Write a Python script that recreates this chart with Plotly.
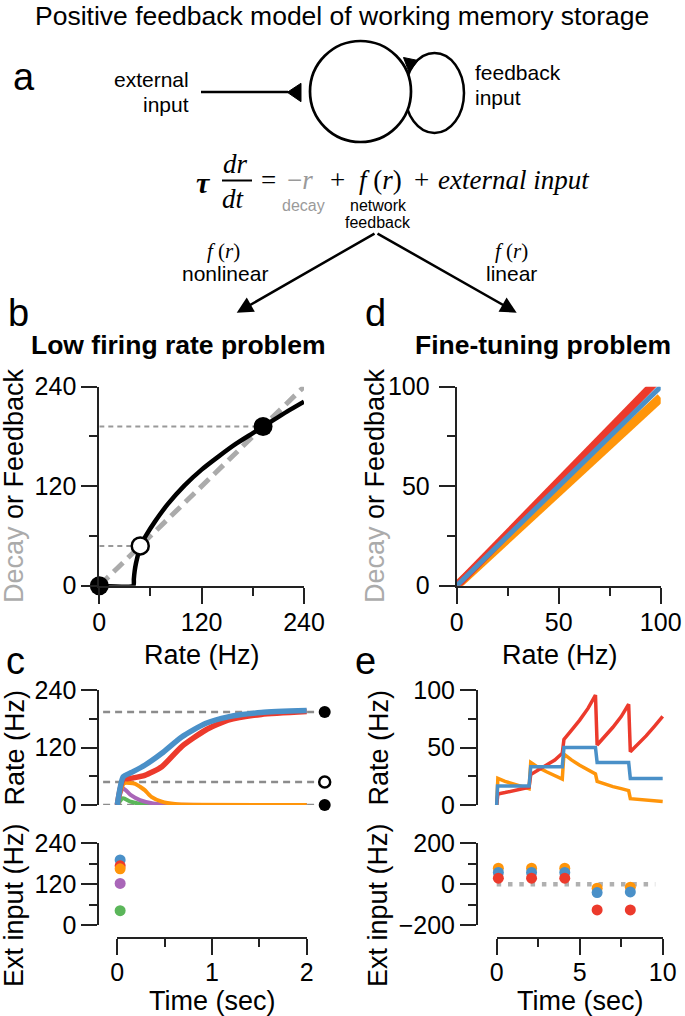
import plotly.graph_objects as go

W, H = 685, 1016
SANS = "Liberation Sans, Arial, Helvetica, sans-serif"
SERIF = "Liberation Serif, Times New Roman, serif"

RED = "#EC3A2C"
BLUE = "#4A90C8"
ORANGE = "#FF950A"
PURPLE = "#A966B8"
GREEN = "#5BB65A"
DECAY_GRAY = "#ababab"
AX = "#222222"

# ---------------- data ----------------
# panel b : nonlinear feedback
decay_rate = [0, 240]
decay_value = [0, 240]
fb_rate = [0, 40, 40.5, 41.5, 43, 45.5, 48, 55, 65, 80, 100, 120, 140, 160, 180, 200, 220, 240]
fb_value = [0, 0, 8, 18, 27, 38, 48, 61, 77, 98, 121, 140, 156, 171, 184, 197, 210, 222]
b_fixed_rate = [0, 48, 192]
b_fixed_value = [0, 48, 192]
b_ticks = [0, 120, 240]
b_minor = [60, 180]

# panel d : linear feedback
d_rate = [0, 100]
d_blue = [0, 100]
d_orange = [0, 94.5]
d_red = [0, 105]
d_ticks = [0, 50, 100]
d_minor = [25, 75]

# panel c : rate vs time (nonlinear)
c_levels = [0, 48, 194]
c_level_span = [-0.15, 2.1]
c_fixed_time = 2.19
c_t_blue = [0, 0.063, 0.15, 0.29, 0.47, 0.68, 0.93, 1.17, 1.52, 2.0]
c_r_blue = [0, 59, 68, 83, 108, 142, 170, 184, 193, 197]
c_t_red = [0, 0.063, 0.15, 0.29, 0.47, 0.68, 0.93, 1.17, 1.52, 2.0]
c_r_red = [0, 53, 56, 62, 80, 122, 156, 177, 189, 195]
c_t_orange = [0, 0.07, 0.13, 0.19, 0.24, 0.29, 0.36, 0.47, 0.61, 0.8, 2.0]
c_r_orange = [0, 45, 46, 44, 38, 31, 17, 7, 2, 0.5, 0]
c_t_purple = [0, 0.06, 0.14, 0.24, 0.38, 0.5, 2.0]
c_r_purple = [0, 35, 21, 10, 3, 1, 0]
c_t_green = [0, 0.06, 0.14, 0.29, 0.45, 2.0]
c_r_green = [0, 14, 7, 1, 0, 0]
c_ext_time = 0.03
c_ext_vals = [191, 174, 165, 122, 42]
c_ext_cols = [BLUE, RED, ORANGE, PURPLE, GREEN]
c_rate_ticks = [0, 120, 240]
c_rate_minor = [60, 180]
c_time_ticks = [0, 1, 2]
c_time_minor = [0.5, 1.5]

# panel e : rate vs time (linear)
e_t_blue = [0, 0.05, 1.95, 2.05, 3.95, 4.05, 5.95, 6.05, 7.95, 8.05, 10]
e_r_blue = [0, 16.5, 16.5, 33.3, 33.3, 50, 50, 37, 37, 23, 23]
e_t_curve = [0, 0.07, 0.5, 1.0, 1.5, 1.95, 2.05, 2.5, 3.0, 3.5, 3.95, 4.05, 4.5, 5.0, 5.5, 5.95,
             6.05, 6.5, 7.0, 7.5, 7.95, 8.05, 8.5, 9.0, 9.5, 10]
e_r_red = [0, 9.6, 10.8, 12.2, 13.8, 15.4, 26.5, 30.2, 34.3, 39.1, 45, 57, 64.9, 73.8, 84, 95.6,
           52.2, 59.4, 67.6, 76.9, 87.6, 46.4, 52.8, 60.1, 68.4, 77]
e_r_orange = [0, 23.2, 20.5, 18.1, 16.0, 14.2, 37, 32.7, 28.9, 25.6, 22.6, 44.3, 39.2, 34.6, 30.6, 27.1,
              20.5, 18.1, 16.0, 14.2, 12.5, 5.5, 4.8, 4.1, 3.5, 3.0]
e_ext_time = [0.1, 2.1, 4.1, 6.05, 8.05]
e_ext_orange = [78, 78, 78, -20, -15]
e_ext_blue = [57, 57, 57, -41, -38]
e_ext_red = [29, 29, 29, -126, -126]
e_zero_t = [0, 9.55]
e_zero_v = [0, 0]
e_rate_ticks = [0, 50, 100]
e_rate_minor = [25, 75]
e_ext_ticks = [-200, 0, 200]
e_ext_minor = [-100, 100]
e_time_ticks = [0, 5, 10]
e_time_minor = [2.5, 7.5]


# ---------------- helpers ----------------
def X(px):
    return px / W


def Y(py):
    return 1 - py / H


def tmap(px, p0, p1, v0, v1):
    return v0 + (px - p0) * (v1 - v0) / (p1 - p0)


fig = go.Figure()

# ---- panel b ----
fig.add_trace(go.Scatter(x=decay_rate, y=decay_value, mode="lines", xaxis="x", yaxis="y",
                         line=dict(color=DECAY_GRAY, width=5, dash="13px,7px")))
for xv, yv in zip(b_fixed_rate[1:], b_fixed_value[1:]):
    fig.add_trace(go.Scatter(x=[0, xv], y=[yv, yv], mode="lines", xaxis="x", yaxis="y",
                             line=dict(color="#999999", width=2, dash="5px,4px")))
fig.add_trace(go.Scatter(x=fb_rate, y=fb_value, mode="lines", xaxis="x", yaxis="y",
                         line=dict(color="black", width=4.5, shape="spline", smoothing=0.5)))
fig.add_trace(go.Scatter(x=[b_fixed_rate[0], b_fixed_rate[2]], y=[b_fixed_value[0], b_fixed_value[2]],
                         mode="markers", xaxis="x", yaxis="y", cliponaxis=False,
                         marker=dict(color="black", size=19)))
fig.add_trace(go.Scatter(x=[b_fixed_rate[1]], y=[b_fixed_value[1]], mode="markers", xaxis="x", yaxis="y",
                         cliponaxis=False,
                         marker=dict(color="white", size=17, line=dict(color="black", width=2.5))))

# ---- panel d ----
fig.add_trace(go.Scatter(x=d_rate, y=d_orange, mode="lines", xaxis="x2", yaxis="y2",
                         line=dict(color=ORANGE, width=9)))
fig.add_trace(go.Scatter(x=d_rate, y=d_red, mode="lines", xaxis="x2", yaxis="y2",
                         line=dict(color=RED, width=8)))
fig.add_trace(go.Scatter(x=d_rate, y=d_blue, mode="lines", xaxis="x2", yaxis="y2",
                         line=dict(color=BLUE, width=5)))

# ---- panel c (rate) ----
for lv in c_levels:
    fig.add_trace(go.Scatter(x=c_level_span, y=[lv, lv], mode="lines", xaxis="x3", yaxis="y3",
                             line=dict(color="#8c8c8c", width=2.5, dash="7px,5px")))
for tt, rr, col, wd in [(c_t_green, c_r_green, GREEN, 4), (c_t_purple, c_r_purple, PURPLE, 4),
                        (c_t_orange, c_r_orange, ORANGE, 4), (c_t_red, c_r_red, RED, 5.5),
                        (c_t_blue, c_r_blue, BLUE, 5.5)]:
    fig.add_trace(go.Scatter(x=tt, y=rr, mode="lines", xaxis="x3", yaxis="y3",
                             line=dict(color=col, width=wd, shape="spline", smoothing=0.6)))
fig.add_trace(go.Scatter(x=[c_fixed_time, c_fixed_time], y=[c_levels[0], c_levels[2]], mode="markers",
                         xaxis="x3", yaxis="y3", cliponaxis=False,
                         marker=dict(color="black", size=12)))
fig.add_trace(go.Scatter(x=[c_fixed_time], y=[c_levels[1]], mode="markers", xaxis="x3", yaxis="y3",
                         cliponaxis=False,
                         marker=dict(color="white", size=11, line=dict(color="black", width=2.5))))
# ---- panel c (ext input) ----
fig.add_trace(go.Scatter(x=[c_ext_time] * len(c_ext_vals), y=c_ext_vals, mode="markers",
                         xaxis="x3", yaxis="y4", cliponaxis=False,
                         marker=dict(color=c_ext_cols, size=11)))
# time axis carrier for panel c
fig.add_trace(go.Scatter(x=[c_time_ticks[0], c_time_ticks[-1]], y=[None, None], mode="lines",
                         xaxis="x4", yaxis="y4", hoverinfo="skip"))

# ---- panel e (rate) ----
fig.add_trace(go.Scatter(x=e_t_curve, y=e_r_orange, mode="lines", xaxis="x5", yaxis="y5",
                         line=dict(color=ORANGE, width=3.5)))
fig.add_trace(go.Scatter(x=e_t_curve, y=e_r_red, mode="lines", xaxis="x5", yaxis="y5",
                         line=dict(color=RED, width=3.5)))
fig.add_trace(go.Scatter(x=e_t_blue, y=e_r_blue, mode="lines", xaxis="x5", yaxis="y5",
                         line=dict(color=BLUE, width=3.5)))
# ---- panel e (ext input) ----
fig.add_trace(go.Scatter(x=e_zero_t, y=e_zero_v, mode="lines", xaxis="x5", yaxis="y6",
                         line=dict(color="#b0b0b0", width=4.5, dash="4.5px,6.8px")))
for vals, col in [(e_ext_orange, ORANGE), (e_ext_blue, BLUE), (e_ext_red, RED)]:
    fig.add_trace(go.Scatter(x=e_ext_time, y=vals, mode="markers", xaxis="x5", yaxis="y6",
                             cliponaxis=False, marker=dict(color=col, size=11)))
fig.add_trace(go.Scatter(x=[e_time_ticks[0], e_time_ticks[-1]], y=[None, None], mode="lines",
                         xaxis="x6", yaxis="y6", hoverinfo="skip"))

# ---------------- axes ----------------
TICKFONT = dict(family=SANS, size=25, color="black")


def ax(tickvals, minorvals, **kw):
    d = dict(showline=True, linecolor=AX, linewidth=2, ticks="outside", ticklen=16, tickwidth=2,
             tickcolor=AX, showgrid=False, zeroline=False, tickfont=TICKFONT, fixedrange=True,
             automargin=False,
             tickmode="array", tickvals=tickvals,
             ticktext=[str(v) if v >= 0 else "\u2212" + str(-v) for v in tickvals],
             minor=dict(tickmode="array", tickvals=minorvals, ticks="outside", ticklen=8,
                        tickwidth=2, tickcolor=AX, showgrid=False))
    d.update(kw)
    return d


# panel geometry (pixels)
B_X0, B_X1 = 99.3, 304.0
D_X0, D_X1 = 456.7, 660.7
TOP_Y0, TOP_Y1 = 386.7, 585.7
R_Y0, R_Y1 = 690.0, 805.0
E_Y0, E_Y1 = 843.3, 925.0
TIME_Y = 938.3
C_AX, C_END = 99.3, 335.0
C_T0, C_T2 = 117.3, 306.7
E_AX, E_END = 478.0, 675.0
E_T0, E_T10 = 496.7, 662.7

layout_axes = dict(
    xaxis=ax(b_ticks, b_minor, domain=[X(B_X0), X(B_X1)], range=[0, 240], anchor="y",
             ticklabelstandoff=-3),
    yaxis=ax(b_ticks, b_minor, domain=[Y(TOP_Y1), Y(TOP_Y0)], range=[0, 240], anchor="x"),
    xaxis2=ax(d_ticks, d_minor, domain=[X(D_X0), X(D_X1)], range=[0, 100], anchor="y2",
              ticklabelstandoff=-3),
    yaxis2=ax(d_ticks, d_minor, domain=[Y(TOP_Y1), Y(TOP_Y0)], range=[0, 100], anchor="x2",
              ticklabelstandoff=4),
    xaxis3=dict(domain=[X(C_AX), X(C_END)], visible=False, anchor="y3", fixedrange=True, automargin=False,
                range=[tmap(C_AX, C_T0, C_T2, 0, 2), tmap(C_END, C_T0, C_T2, 0, 2)]),
    yaxis3=ax(c_rate_ticks, c_rate_minor, domain=[Y(R_Y1), Y(R_Y0)], range=[0, 240], anchor="x3"),
    yaxis4=ax(c_rate_ticks, c_rate_minor, domain=[Y(E_Y1), Y(E_Y0)], range=[0, 240], anchor="x3"),
    xaxis4=ax(c_time_ticks, c_time_minor, domain=[X(C_T0), X(C_T2)], range=[0, 2], anchor="free",
              position=Y(TIME_Y), ticklabelstandoff=-4),
    xaxis5=dict(domain=[X(E_AX), X(E_END)], visible=False, anchor="y5", fixedrange=True, automargin=False,
                range=[tmap(E_AX, E_T0, E_T10, 0, 10), tmap(E_END, E_T0, E_T10, 0, 10)]),
    yaxis5=ax(e_rate_ticks, e_rate_minor, domain=[Y(R_Y1), Y(R_Y0)], range=[0, 100], anchor="x5"),
    yaxis6=ax(e_ext_ticks, e_ext_minor, domain=[Y(E_Y1), Y(E_Y0)], range=[-200, 200], anchor="x5"),
    xaxis6=ax(e_time_ticks, e_time_minor, domain=[X(E_T0), X(E_T10)], range=[0, 10], anchor="free",
              position=Y(TIME_Y), ticklabelstandoff=-4),
)

# ---------------- annotations ----------------
anns = []


def ann(text, px, py, size, color="black", family=SANS, xanchor="center", yanchor="middle", angle=0):
    anns.append(dict(text=text, x=X(px), y=Y(py), xref="paper", yref="paper", showarrow=False,
                     xanchor=xanchor, yanchor=yanchor, textangle=angle,
                     font=dict(family=family, size=size, color=color)))


ann("Positive feedback model of working memory storage", 342, 16, 26.5)
ann("a", 24, 77, 38)
ann("external", 191, 80, 21, xanchor="right")
ann("input", 191, 104, 21, xanchor="right")
ann("feedback", 473, 73, 21, xanchor="left")
ann("input", 473, 97, 21, xanchor="left")

# equation
ann("<b><i>τ</i></b>", 203, 182, 30, family=SERIF)
ann("<i>dr</i>", 235, 164, 27, family=SERIF)
ann("<i>dt</i>", 233, 199, 27, family=SERIF)
ann("=", 268, 180, 27, family=SERIF)
ann("\u2212<i>r</i>", 300, 180, 27, color="#9a9a9a", family=SERIF)
ann("+", 337, 180, 27, family=SERIF)
ann("<i>f</i> (<i>r</i>)", 380, 180, 27, family=SERIF)
ann("+", 421, 180, 27, family=SERIF)
ann("<i>external input</i>", 436, 180, 27, family=SERIF, xanchor="left")
ann("decay", 303.5, 206, 16, color="#9a9a9a")
ann("network", 378, 206, 16)
ann("feedback", 378, 222, 16)
ann("<i>f</i> (<i>r</i>)", 223, 251, 21, family=SERIF)
ann("nonlinear", 225, 274, 21)
ann("<i>f</i> (<i>r</i>)", 511, 251, 21, family=SERIF)
ann("linear", 511, 274, 21)

# arrows
APEX = (376, 232.7)
for tip in [(236.7, 312.7), (516.7, 312.7)]:
    anns.append(dict(text="", x=X(tip[0]), y=Y(tip[1]), xref="paper", yref="paper", showarrow=True,
                     ax=APEX[0] - tip[0], ay=APEX[1] - tip[1], axref="pixel", ayref="pixel",
                     arrowhead=2, arrowsize=1.3, arrowwidth=2.5, arrowcolor="black", standoff=0))

# panel labels & titles
ann("b", 18, 313, 38)
ann("d", 375, 313, 38)
ann("c", 15, 661, 38)
ann("e", 366, 661, 38)
ann("<b>Low firing rate problem</b>", 177.5, 345, 26.5)
ann("<b>Fine-tuning problem</b>", 542.5, 345, 26.5)

# axis titles
YT = "<span style='color:%s'>Decay</span> or Feedback" % DECAY_GRAY
ann(YT, 14, 486, 27, angle=-90)
ann(YT, 375, 486, 27, angle=-90)
ann("Rate (Hz)", 202, 655, 27)
ann("Rate (Hz)", 559.5, 655, 27)
ann("Rate (Hz)", 14, 747.5, 27, angle=-90)
ann("Ext input (Hz)", 14, 905, 27, angle=-90)
ann("Rate (Hz)", 378, 747.5, 27, angle=-90)
ann("Ext input (Hz)", 378, 905, 27, angle=-90)
ann("Time (sec)", 212, 1001, 27)
ann("Time (sec)", 580, 1001, 27)


# ---------------- shapes (diagram) ----------------
def path(points):
    return "M " + " L ".join("%f,%f" % (X(a), Y(b)) for a, b in points) + " Z"


shapes = [
    dict(type="line", xref="paper", yref="paper", x0=X(201), y0=Y(92), x1=X(288), y1=Y(92),
         line=dict(color="black", width=2.5)),
    dict(type="path", xref="paper", yref="paper", path=path([(287.3, 92.3), (301, 83.3), (301, 101.7)]),
         fillcolor="black", line=dict(color="black", width=1)),
    dict(type="circle", xref="paper", yref="paper", x0=X(405), x1=X(464), y0=Y(133), y1=Y(53),
         line=dict(color="black", width=2.5)),
    dict(type="circle", xref="paper", yref="paper", x0=X(310), x1=X(411), y0=Y(142), y1=Y(41),
         fillcolor="white", line=dict(color="black", width=2.7)),
    dict(type="path", xref="paper", yref="paper", path=path([(403.5, 57.5), (418, 60.5), (409, 72)]),
         fillcolor="black", line=dict(color="black", width=1)),
    dict(type="line", xref="paper", yref="paper", x0=X(222), y0=Y(180.5), x1=X(252), y1=Y(180.5),
         line=dict(color="black", width=2)),
]

fig.update_layout(width=W, height=H, autosize=False,
                  margin=dict(l=0, r=0, t=0, b=0, pad=0, autoexpand=False), showlegend=False,
                  paper_bgcolor="white", plot_bgcolor="rgba(0,0,0,0)", annotations=anns, shapes=shapes,
                  font=dict(family=SANS), **layout_axes)

fig.write_html("out.html", config={"displayModeBar": False},
               post_script="document.body.style.margin='0';document.body.style.overflow='hidden';")
